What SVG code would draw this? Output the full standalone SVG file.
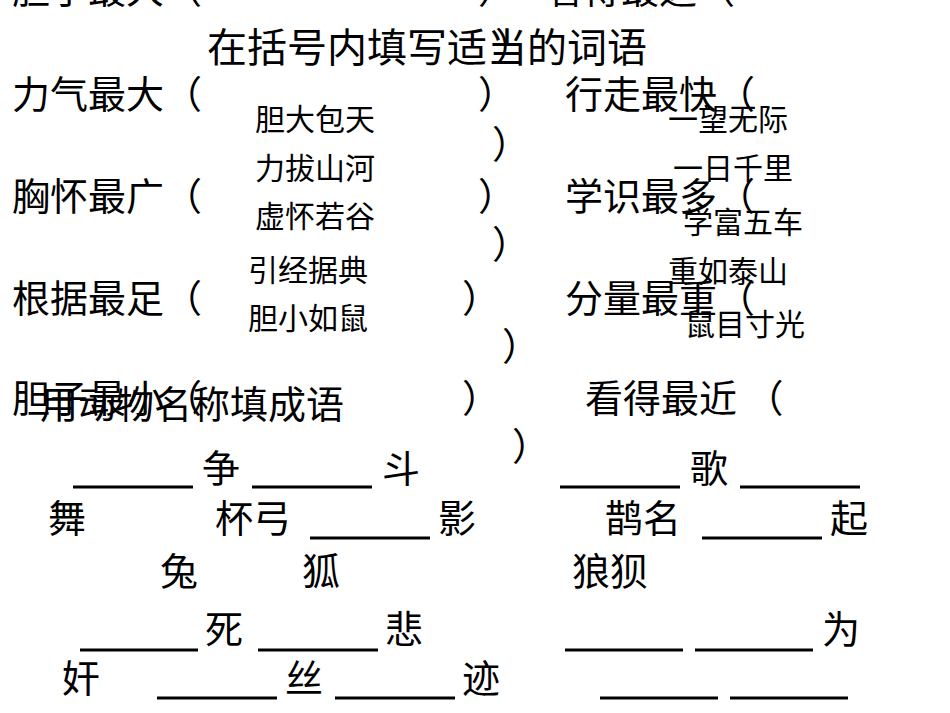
<svg xmlns="http://www.w3.org/2000/svg" width="950" height="713" viewBox="0 0 950 713">
<style>
text{font-family:"Noto Sans CJK SC","Liberation Sans",sans-serif;fill:#000}
.b{font-size:38px}
.t{font-size:40px}
.s{font-size:30px}
.u{stroke:#000;stroke-width:3}
</style>
<rect width="950" height="713" fill="#fff"/>
<g id="top">
<text class="b" x="12" y="3">胆子最大（</text>
<text class="b" x="478" y="3">）</text>
<text class="b" x="545" y="3">看得最远（</text>
</g>
<text class="t" x="207" y="62">在括号内填写适当的词语</text>
<text class="b" x="495" y="60">）</text>
<g id="left">
<text class="b" x="12" y="108">力气最大（</text>
<text class="b" x="478" y="108">）</text>
<text class="b" x="12" y="210">胸怀最广（</text>
<text class="b" x="478" y="210">）</text>
<text class="b" x="12" y="312">根据最足（</text>
<text class="b" x="462" y="312">）</text>
<text class="b" x="12" y="412">胆子最小（</text>
<text class="b" x="462" y="412">）</text>
<text class="b" x="40" y="418">用动物名称填成语</text>
</g>
<g id="right">
<text class="b" x="565" y="108">行走最快（</text>
<text class="b" x="492" y="158">）</text>
<text class="b" x="565" y="210">学识最多（</text>
<text class="b" x="492" y="258">）</text>
<text class="b" x="565" y="312">分量最重（</text>
<text class="b" x="502" y="360">）</text>
<text class="b" x="585" y="412">看得最近 （</text>
<text class="b" x="512" y="460">）</text>
</g>
<g id="idioms">
<text class="s" x="255" y="130">胆大包天</text>
<text class="s" x="255" y="179">力拔山河</text>
<text class="s" x="255" y="227">虚怀若谷</text>
<text class="s" x="248" y="281">引经据典</text>
<text class="s" x="248" y="329">胆小如鼠</text>
<text class="s" x="668" y="130">一望无际</text>
<text class="s" x="673" y="179">一日千里</text>
<text class="s" x="683" y="233">学富五车</text>
<text class="s" x="668" y="282">重如泰山</text>
<text class="s" x="685" y="335">鼠目寸光</text>
</g>
<g id="lines">
<line class="u" x1="73" y1="487" x2="193" y2="487"/>
<line class="u" x1="252" y1="487" x2="372" y2="487"/>
<line class="u" x1="560" y1="487" x2="680" y2="487"/>
<line class="u" x1="740" y1="487" x2="860" y2="487"/>
<line class="u" x1="310" y1="538" x2="430" y2="538"/>
<line class="u" x1="702" y1="538" x2="822" y2="538"/>
<line class="u" x1="80" y1="650" x2="198" y2="650"/>
<line class="u" x1="258" y1="650" x2="378" y2="650"/>
<line class="u" x1="565" y1="650" x2="683" y2="650"/>
<line class="u" x1="695" y1="650" x2="813" y2="650"/>
<line class="u" x1="157" y1="698" x2="277" y2="698"/>
<line class="u" x1="335" y1="698" x2="455" y2="698"/>
<line class="u" x1="600" y1="698" x2="718" y2="698"/>
<line class="u" x1="730" y1="698" x2="848" y2="698"/>
</g>
<g id="blanks">
<text class="b" x="202" y="482">争</text>
<text class="b" x="382" y="482">斗</text>
<text class="b" x="690" y="482">歌</text>
<text class="b" x="48" y="532">舞</text>
<text class="b" x="215" y="532">杯弓</text>
<text class="b" x="438" y="532">影</text>
<text class="b" x="605" y="532">鹊名</text>
<text class="b" x="830" y="532">起</text>
<text class="b" x="160" y="585">兔</text>
<text class="b" x="302" y="585">狐</text>
<text class="b" x="572" y="585">狼狈</text>
<text class="b" x="205" y="643">死</text>
<text class="b" x="385" y="643">悲</text>
<text class="b" x="822" y="643">为</text>
<text class="b" x="62" y="692">奸</text>
<text class="b" x="285" y="692">丝</text>
<text class="b" x="462" y="692">迹</text>
</g>
</svg>
